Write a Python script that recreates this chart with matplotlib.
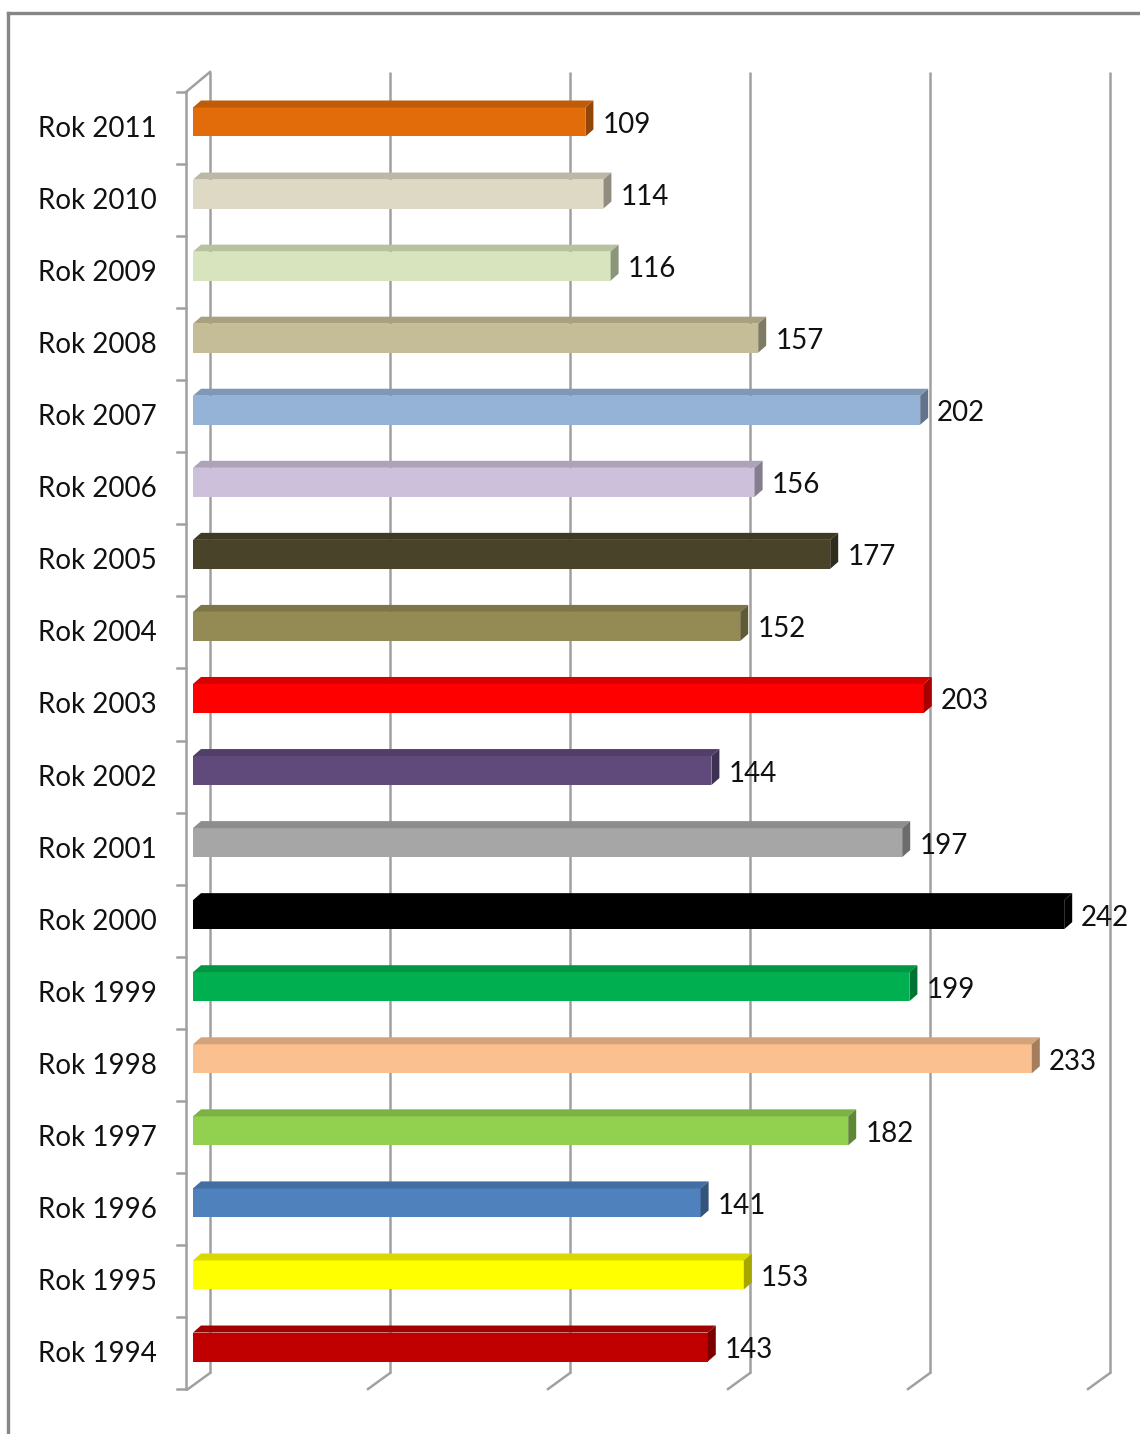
import matplotlib.pyplot as plt
from matplotlib.patches import Polygon
from matplotlib.lines import Line2D
import matplotlib.colors as mcolors

# data, top to bottom as in the chart
years = ['Rok 2011', 'Rok 2010', 'Rok 2009', 'Rok 2008', 'Rok 2007', 'Rok 2006',
         'Rok 2005', 'Rok 2004', 'Rok 2003', 'Rok 2002', 'Rok 2001', 'Rok 2000',
         'Rok 1999', 'Rok 1998', 'Rok 1997', 'Rok 1996', 'Rok 1995', 'Rok 1994']
values = [109, 114, 116, 157, 202, 156, 177, 152, 203, 144, 197, 242,
          199, 233, 182, 141, 153, 143]
colors = ['#E26B0A', '#DDD9C4', '#D7E4BD', '#C4BD97', '#95B3D7', '#CCC0DA',
          '#494429', '#948A54', '#FF0000', '#604A7B', '#A6A6A6', '#000000',
          '#00B050', '#FAC090', '#92D050', '#4F81BD', '#FFFF00', '#C00000']
grid_values = [0, 50, 100, 150, 200, 250]

plt.rcParams['font.family'] = ['Lato', 'DejaVu Sans']

W, H = 1140, 1434
fig = plt.figure(figsize=(W / 100, H / 100), dpi=100)
ax = fig.add_axes([0, 0, 1, 1])

# pixel scale: 3.6 px per unit on x, 72.06 px per category on y
PX = 3.6
PY = 72.06
x0 = 193
ax.set_xlim(-x0 / PX, (W - x0) / PX)
ax.set_ylim(17 - (H - 128) / PY, 17 + 128 / PY)
ax.axis('off')


def dx(p):
    return p / PX


def dy(p):
    return p / PY


n = len(years)
grid_c = '#A0A0A0'

# back wall gridlines with the floor slant
for g in grid_values:
    xb = g + dx(17)
    ax.plot([xb, xb], [17.5 + dy(20), -0.5 + dy(16)], color=grid_c, lw=1.8,
            solid_capstyle='butt')
    ax.plot([xb, xb - dx(22)], [-0.5 + dy(16), -0.5], color=grid_c, lw=1.8)

# left axis with ticks
xa = dx(-7)
ax.plot([xa, xa], [17.5, -0.5], color=grid_c, lw=1.8)
ax.plot([xa, dx(17)], [17.5, 17.5 + dy(20)], color=grid_c, lw=1.8)
for k in range(n + 1):
    ax.plot([xa - dx(9), xa], [k - 0.5, k - 0.5], color=grid_c, lw=1.8)


def shade(c, f):
    r, g, b = mcolors.to_rgb(c)
    return (r * f, g * f, b * f)


# bars with a small 3D look
h = dy(29)
ox, oy = dx(8), dy(7)
for j, (lab, v, c) in enumerate(zip(years, values, colors)):
    i = n - 1 - j
    yc = i + dy(6)
    bot, top = yc - h / 2, yc + h / 2
    ax.barh(yc, v, height=h, left=0, color=c, edgecolor='none', zorder=3)
    ax.add_patch(Polygon([(0, top), (v, top), (v + ox, top + oy), (ox, top + oy)],
                         closed=True, facecolor=shade(c, 0.85), edgecolor='none', zorder=3))
    ax.add_patch(Polygon([(v, bot), (v, top), (v + ox, top + oy), (v + ox, bot + oy)],
                         closed=True, facecolor=shade(c, 0.65), edgecolor='none', zorder=3))
    ax.text(v + ox + dx(9), yc - dy(3), str(v), ha='left', va='center', fontsize=20,
            color='#111111', zorder=4)
    ax.text(dx(157 - x0), i - dy(1), lab, ha='right', va='center', fontsize=20,
            color='#111111')

# outer frame (top and left edges visible)
fig.add_artist(Line2D([8 / W, 1], [1 - 13 / H, 1 - 13 / H], color='#868686', lw=2.4))
fig.add_artist(Line2D([8 / W, 8 / W], [0, 1 - 13 / H], color='#868686', lw=2.4))

fig.savefig('out.png', dpi=100)
